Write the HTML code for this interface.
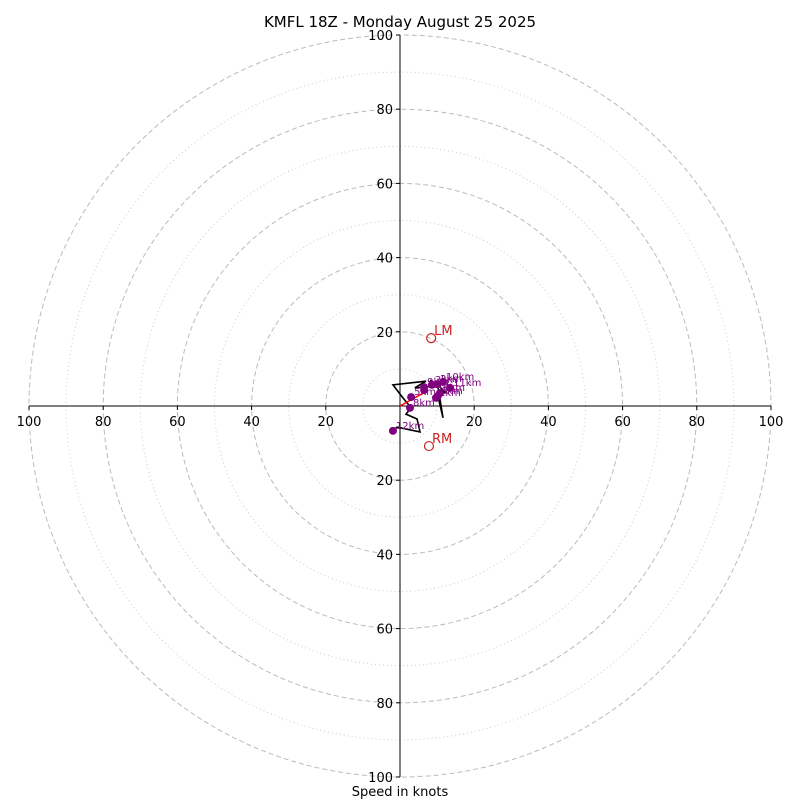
<!DOCTYPE html>
<html><head><meta charset="utf-8"><style>
body{margin:0;background:#fff;}
svg{display:block;font-family:"DejaVu Sans","Liberation Sans",sans-serif;}
</style></head><body>
<svg id="c" width="800" height="800" viewBox="0 0 800 800">
<rect width="800" height="800" fill="#fff"/>
<text x="400" y="27" font-size="15" text-anchor="middle">KMFL 18Z - Monday August 25 2025</text>
<text x="400" y="796" font-size="13" text-anchor="middle">Speed in knots</text>
<g id="grid"></g><g id="axes"></g><g id="plot"></g>
</svg>
<script>
const ringsDashed=[20,40,60,80,100];
const ringsDotted=[10,30,50,70,90];
const tickLabels=[20,40,60,80,100];
const hodoU=[-1.9,-0.8,5.4,4.6,1.6,3.0,0.8,-1.9,7.0,4.0,10.2,11.6,10.2,12.1,10.0,8.1];
const hodoV=[-6.7,-5.7,-7.0,-3.5,-2.2,-0.5,2.2,5.7,6.7,4.9,5.4,-3.2,2.7,3.8,5.9,7.0];
const ptLabels=["12km","8km","5km","7km","9km","3km","2km","10km","11km","6km","4km","1km"];
const ptU=[-1.9,2.7,3.0,6.5,6.5,8.6,10.0,11.6,13.5,10.2,10.8,9.7];
const ptV=[-6.7,-0.5,2.4,4.3,5.1,5.7,5.9,6.5,4.9,2.7,3.5,2.2];
const motionLabels=["LM","RM"];
const motionU=[8.4,7.8];
const motionV=[18.3,-10.8];
const meanU=[7.2];const meanV=[4.0];
const cx=400,cy=406,sc=3.71;
const X=u=>cx+u*sc, Y=v=>cy-v*sc;
const NS="http://www.w3.org/2000/svg";
function mk(t,a,p){const e=document.createElementNS(NS,t);for(const k in a)e.setAttribute(k,a[k]);p.appendChild(e);return e;}
const grid=document.getElementById('grid'),axes=document.getElementById('axes'),plot=document.getElementById('plot');
ringsDashed.forEach(r=>{const e=mk('circle',{cx:cx,cy:cy,r:r*sc,fill:'none',stroke:'#bbb','stroke-dasharray':'5,3'},grid);

});
ringsDotted.forEach(r=>{const e=mk('circle',{cx:cx,cy:cy,r:r*sc,fill:'none',stroke:'#ccc','stroke-dasharray':'1,3'},grid);

});
let a=mk('line',{x1:X(-100),y1:cy,x2:X(100),y2:cy,stroke:'#000'},axes);


a=mk('line',{x1:cx,y1:Y(100),x2:cx,y2:Y(-100),stroke:'#000'},axes);


tickLabels.forEach(t=>{
 [1,-1].forEach(s=>{
  mk('line',{x1:X(s*t),y1:cy,x2:X(s*t),y2:cy+4,stroke:'#000'},axes);
  let e=mk('text',{x:X(s*t),y:cy+20,'font-size':13,'text-anchor':'middle'},axes);e.textContent=t;
  
  
  mk('line',{x1:cx-4,y1:Y(s*t),x2:cx,y2:Y(s*t),stroke:'#000'},axes);
  e=mk('text',{x:cx-7,y:Y(s*t)+5,'font-size':13,'text-anchor':'end'},axes);e.textContent=t;
  
  
 });
});
const pl=mk('polyline',{points:hodoU.map((u,i)=>X(u)+','+Y(hodoV[i])).join(' '),fill:'none',stroke:'#000','stroke-width':1.6},plot);


const ar=mk('line',{x1:cx,y1:cy,x2:X(meanU[0]),y2:Y(meanV[0]),stroke:'red','stroke-width':1.5},plot);


ptU.forEach((u,i)=>{
 const d=mk('circle',{cx:X(u),cy:Y(ptV[i]),r:4,fill:'purple'},plot);
 
 
 const t=mk('text',{x:X(u)+3,y:Y(ptV[i])-2,'font-size':10,fill:'purple'},plot);t.textContent=ptLabels[i];
 
 
});
motionU.forEach((u,i)=>{
 const c=mk('circle',{cx:X(u),cy:Y(motionV[i]),r:4.5,fill:'none',stroke:'#c22','stroke-width':1.2},plot);
 
 
 const t=mk('text',{x:X(u)+3,y:Y(motionV[i])-3,'font-size':13,fill:'#c22'},plot);t.textContent=motionLabels[i];
 
 
});
</script>
</body></html>
